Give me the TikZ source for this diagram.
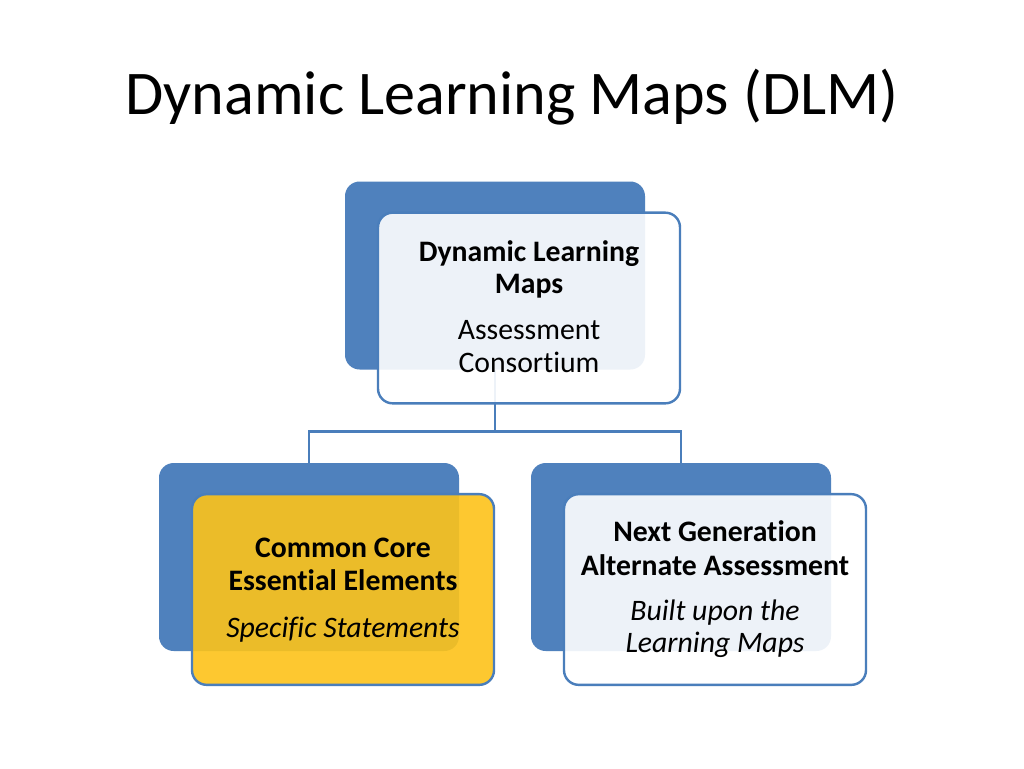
\documentclass[tikz,border=0pt]{standalone}
\usepackage{fontspec}
\setmainfont{Carlito}[Ligatures=NoCommon]
\definecolor{dlmblue}{HTML}{4F81BD}
\definecolor{dlmline}{HTML}{4A7EBB}
\definecolor{dlmyellow}{HTML}{FDC31A}
\begin{document}
\begin{tikzpicture}[x=0.75pt,y=-0.75pt,
  backbox/.style={draw=none, fill=dlmblue, rounded corners=11pt, inner sep=0pt,
    minimum width=225pt, minimum height=141pt},
  frontbox/.style={draw=dlmline, line width=1.8pt, rounded corners=11pt, inner sep=0pt,
    fill opacity=0.9, minimum width=226.5pt, minimum height=143pt},
  conn/.style={draw=dlmline, line width=2.2pt},
  boxtxt/.style={anchor=base, inner sep=0pt, font=\fontsize{22.3}{26}\selectfont},
  titletxt/.style={anchor=base, inner sep=0pt, font=\fontsize{46.6}{55}\selectfont}
]
\useasboundingbox (0,0) rectangle (1024,768);
\fill[white] (0,0) rectangle (1024,768);

\node[titletxt] (title) at (512,114) {Dynamic Learning Maps (DLM)};

% back boxes
\node[backbox] (b1) at (495,275.5) {};
\node[backbox] (b2) at (309,557) {};
\node[backbox] (b3) at (681,557) {};

% connectors
\draw[conn] (b1.south) -- ++(0,62) coordinate (hub) -| (b2.north);
\draw[conn] (hub) -| (b3.north);

% front boxes
\node[frontbox, fill=white] (f1) at (529,308) {};
\node[frontbox, fill=dlmyellow] (f2) at (343,589.5) {};
\node[frontbox, fill=white] (f3) at (715,589.5) {};

% texts
\node[boxtxt] (t1a) at (529,261) {\bfseries Dynamic Learning};
\node[boxtxt] (t1b) at (529,293) {\bfseries Maps};
\node[boxtxt] (t1c) at (529,339) {Assessment};
\node[boxtxt] (t1d) at (529,372) {Consortium};

\node[boxtxt] (t2a) at (343,557) {\bfseries Common Core};
\node[boxtxt] (t2b) at (343,590) {\bfseries Essential Elements};
\node[boxtxt] (t2c) at (343,637) {\itshape Specific Statements};

\node[boxtxt] (t3a) at (715,541) {\bfseries Next Generation};
\node[boxtxt] (t3b) at (715,575) {\bfseries Alternate Assessment};
\node[boxtxt] (t3c) at (715,620) {\itshape Built upon the};
\node[boxtxt] (t3d) at (715,652) {\itshape Learning Maps};
\end{tikzpicture}
\end{document}
